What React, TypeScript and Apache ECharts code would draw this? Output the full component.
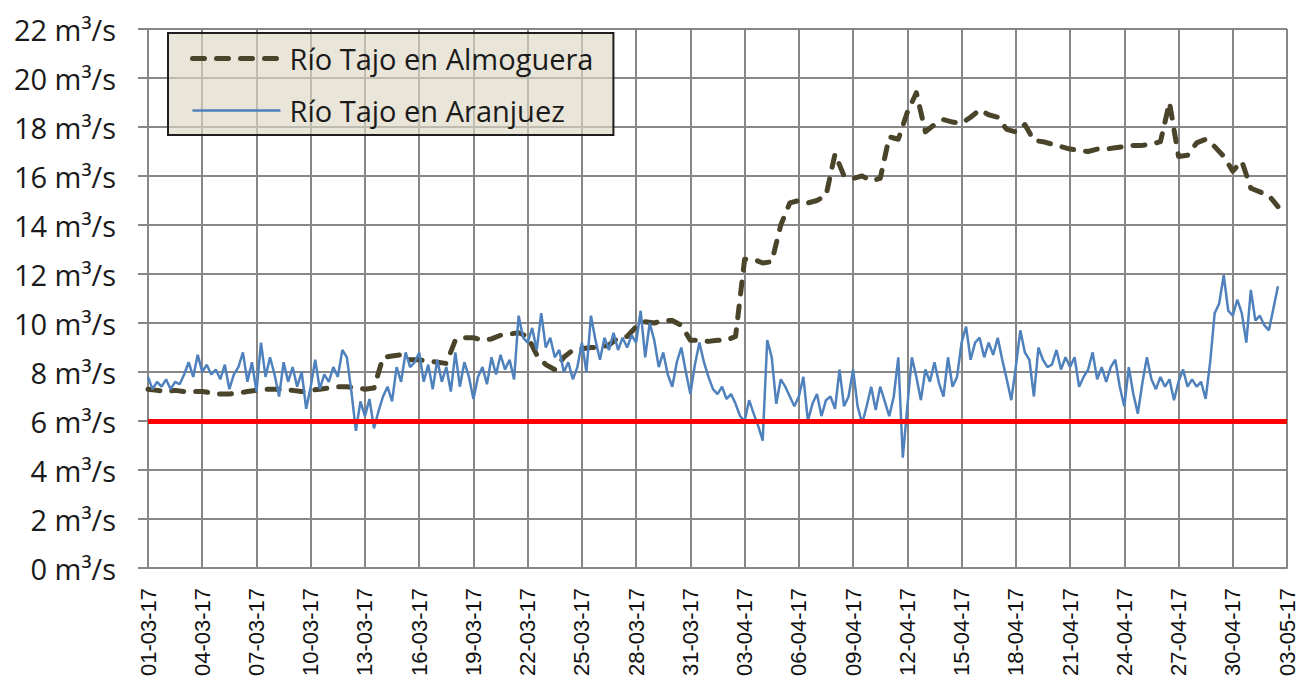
import React, { useEffect, useRef } from "react";
import * as echarts from "echarts";

// Series names
const SERIES_ALMOGUERA = "Río Tajo en Almoguera";
const SERIES_ARANJUEZ = "Río Tajo en Aranjuez";

// Start date of the x axis (day 0 = 01-03-2017) and axis span in days
const START_YEAR = 2017;
const START_MONTH = 2; // March (0-based)
const START_DAY = 1;
const AXIS_DAYS = 63;
const TICK_DAYS = 3;

// Y axis ticks (m³/s)
const Y_MIN = 0;
const Y_MAX = 22;
const Y_STEP = 2;

// Ecological minimum flow (m³/s)
const THRESHOLD = 6;

// Río Tajo en Almoguera, two readings per day (00h, 12h), from 01-03-17
const ALMOGUERA_PER_DAY = 2;
const almoguera = [
  7.3, 7.25, 7.2, 7.25, 7.2, 7.2, 7.2, 7.15, 7.1, 7.1,
  7.15, 7.2, 7.25, 7.3, 7.3, 7.3, 7.25, 7.2, 7.25, 7.3,
  7.35, 7.4, 7.4, 7.35, 7.3, 7.35, 8.6, 8.65, 8.7, 8.5,
  8.5, 8.45, 8.4, 8.35, 9.3, 9.4, 9.4, 9.3, 9.35, 9.5,
  9.55, 9.6, 9.45, 8.7, 8.3, 8.1, 8.6, 8.9, 8.95, 9.0,
  9.0, 9.1, 9.4, 9.45, 9.85, 10.05, 10.0, 10.1, 10.1, 9.9,
  9.3, 9.3, 9.25, 9.3, 9.3, 9.45, 12.6, 12.6, 12.45, 12.5,
  14.0, 14.9, 15.0, 14.9, 15.0, 15.2, 16.9, 16.0, 15.9, 16.0,
  15.8, 15.9, 17.6, 17.5, 18.6, 19.4, 17.8, 18.1, 18.3, 18.2,
  18.15, 18.4, 18.7, 18.5, 18.4, 17.9, 17.8, 18.1, 17.45, 17.4,
  17.3, 17.2, 17.1, 17.05, 17.0, 17.1, 17.1, 17.15, 17.2, 17.25,
  17.25, 17.3, 17.4, 19.0, 16.8, 16.85, 17.35, 17.5, 17.2, 16.8,
  16.2, 16.6, 15.5, 15.35, 15.2, 14.75,
];

// Río Tajo en Aranjuez, four readings per day (00h, 06h, 12h, 18h), from 01-03-17
const ARANJUEZ_PER_DAY = 4;
const aranjuez = [
  7.8, 7.3, 7.6, 7.4, 7.7, 7.3, 7.6, 7.5, 7.9, 8.4, 7.8, 8.7,
  8.0, 8.3, 7.9, 8.1, 7.7, 8.3, 7.3, 7.9, 8.2, 8.8, 7.6, 8.4,
  7.2, 9.2, 7.8, 8.6, 7.9, 7.0, 8.4, 7.6, 8.2, 7.4, 8.0, 6.5,
  7.4, 8.5, 7.3, 7.9, 7.6, 8.2, 7.8, 8.9, 8.6, 7.2, 5.6, 6.8,
  6.2, 6.9, 5.7, 6.4, 7.0, 7.4, 6.8, 8.2, 7.6, 8.8, 8.2, 8.4,
  8.8, 7.6, 8.3, 7.3, 8.5, 7.6, 8.2, 7.2, 8.8, 7.4, 8.4, 7.8,
  6.9, 7.8, 8.2, 7.5, 8.6, 7.9, 8.7, 8.1, 8.5, 7.7, 10.3, 9.4,
  9.2, 9.8, 8.9, 10.4, 9.0, 9.4, 8.6, 8.9, 8.0, 8.4, 7.7, 8.2,
  9.2, 8.0, 10.3, 9.3, 8.5, 9.4, 8.9, 9.6, 8.9, 9.4, 9.0, 9.5,
  9.2, 10.5, 8.6, 10.0, 9.3, 8.2, 8.8, 7.9, 7.4, 8.4, 9.0, 8.0,
  7.1, 8.3, 9.2, 8.4, 7.8, 7.3, 7.1, 7.4, 6.9, 7.1, 6.7, 6.2,
  6.0, 6.85, 6.3, 5.8, 5.2, 9.3, 8.6, 6.7, 7.7, 7.4, 7.0, 6.6,
  7.0, 7.8, 6.0, 6.7, 7.1, 6.2, 6.85, 7.0, 6.5, 8.1, 6.6, 7.0,
  8.1, 6.6, 5.9, 6.6, 7.4, 6.45, 7.4, 6.8, 6.2, 7.0, 8.6, 4.5,
  6.6, 8.6, 7.8, 6.85, 8.1, 7.6, 8.4, 7.55, 7.0, 8.6, 7.4, 7.8,
  9.2, 9.85, 8.5, 9.2, 9.4, 8.6, 9.2, 8.7, 9.4, 8.5, 7.7, 6.85,
  8.2, 9.7, 8.8, 8.5, 7.0, 9.0, 8.5, 8.2, 8.3, 8.9, 8.1, 8.6,
  8.2, 8.6, 7.4, 7.8, 8.1, 8.8, 7.7, 8.2, 7.6, 8.2, 8.5, 7.4,
  6.6, 8.2, 7.1, 6.3, 7.55, 8.6, 7.7, 7.3, 7.8, 7.4, 7.7, 6.85,
  7.6, 8.1, 7.4, 7.7, 7.4, 7.6, 6.9, 8.4, 10.4, 10.8, 11.95, 10.5,
  10.3, 10.95, 10.4, 9.2, 11.35, 10.1, 10.3, 9.9, 9.7, 10.6, 11.5,
];

const DAY_MS = 86400000;
const START_MS = Date.UTC(START_YEAR, START_MONTH, START_DAY);

function formatDay(v: number): string {
  const d = new Date(START_MS + Math.round(v) * DAY_MS);
  const dd = String(d.getUTCDate()).padStart(2, "0");
  const mm = String(d.getUTCMonth() + 1).padStart(2, "0");
  const yy = String(d.getUTCFullYear() % 100).padStart(2, "0");
  return `${dd}-${mm}-${yy}`;
}

const ALMOGUERA_COLOR = "#4a442b";
const ARANJUEZ_COLOR = "#4f81bd";
const ALMOGUERA_LINE = { color: ALMOGUERA_COLOR, width: 5, type: [12, 12], cap: "round", join: "round" };
const ARANJUEZ_LINE = { color: ARANJUEZ_COLOR, width: 2.5 };

export default function App() {
  const ref = useRef<HTMLDivElement>(null);

  useEffect(() => {
    if (!ref.current) return;
    const chart = echarts.init(ref.current, undefined, { renderer: "svg" });
    const gridColor = "#878787";

    chart.setOption({
      animation: false,
      backgroundColor: "#ffffff",
      grid: { left: 148, right: 14, top: 29, bottom: 120, containLabel: false },
      legend: {
        show: true,
        data: [
          {
            name: SERIES_ALMOGUERA,
            itemStyle: { opacity: 0 },
            lineStyle: { ...ALMOGUERA_LINE },
          },
          {
            name: SERIES_ARANJUEZ,
            itemStyle: { opacity: 0 },
            lineStyle: { ...ARANJUEZ_LINE },
          },
        ],
        orient: "vertical",
        left: 168,
        top: 33,
        itemWidth: 88,
        itemHeight: 14,
        itemGap: 23,
        padding: [11, 20, 10, 22],
        backgroundColor: "rgba(221,215,195,0.65)",
        borderColor: "#1e1e1e",
        borderWidth: 2,
        textStyle: { fontFamily: "Open Sans", fontSize: 29, color: "#1a1a1a", padding: [0, 0, 0, 4] },
      },
      xAxis: {
        type: "value",
        min: 0,
        max: AXIS_DAYS,
        interval: TICK_DAYS,
        axisLine: { show: true, lineStyle: { color: gridColor, width: 2 } },
        axisTick: { show: false },
        splitLine: { show: true, lineStyle: { color: gridColor, width: 2 } },
        axisLabel: {
          rotate: 90,
          margin: 20,
          formatter: (v: number) => formatDay(v),
          fontFamily: "Liberation Sans",
          fontSize: 22,
          color: "#111",
          showMinLabel: true,
          showMaxLabel: true,
        },
      },
      yAxis: {
        type: "value",
        min: Y_MIN,
        max: Y_MAX,
        interval: Y_STEP,
        axisLine: { show: true, lineStyle: { color: gridColor, width: 2 } },
        axisTick: { show: true, inside: false, length: 10, lineStyle: { color: gridColor, width: 2 } },
        splitLine: { show: true, lineStyle: { color: gridColor, width: 2 } },
        axisLabel: {
          margin: 32,
          formatter: (v: number) => `${v} m³/s`,
          fontFamily: "Open Sans",
          fontSize: 29,
          color: "#1a1a1a",
        },
      },
      series: [
        {
          name: "threshold",
          type: "line",
          data: [],
          z: 1,
          silent: true,
          markLine: {
            symbol: ["none", "none"],
            silent: true,
            label: { show: false },
            lineStyle: { color: "#ff0000", width: 5, type: "solid" },
            data: [{ yAxis: THRESHOLD }],
          },
        },
        {
          name: SERIES_ARANJUEZ,
          type: "line",
          z: 3,
          showSymbol: false,
          symbol: "none",
          data: aranjuez.map((v, i) => [i / ARANJUEZ_PER_DAY, v]),
          lineStyle: { ...ARANJUEZ_LINE },
          itemStyle: { color: ARANJUEZ_COLOR },
        },
        {
          name: SERIES_ALMOGUERA,
          type: "line",
          z: 2,
          showSymbol: false,
          symbol: "none",
          data: almoguera.map((v, i) => [i / ALMOGUERA_PER_DAY, v]),
          lineStyle: { ...ALMOGUERA_LINE },
          itemStyle: { color: ALMOGUERA_COLOR },
        },
      ],
    });

    return () => chart.dispose();
  }, []);

  return (
    <div
      ref={ref}
      style={{ position: "fixed", left: 0, top: 0, width: 1301, height: 688, background: "#fff" }}
    />
  );
}
